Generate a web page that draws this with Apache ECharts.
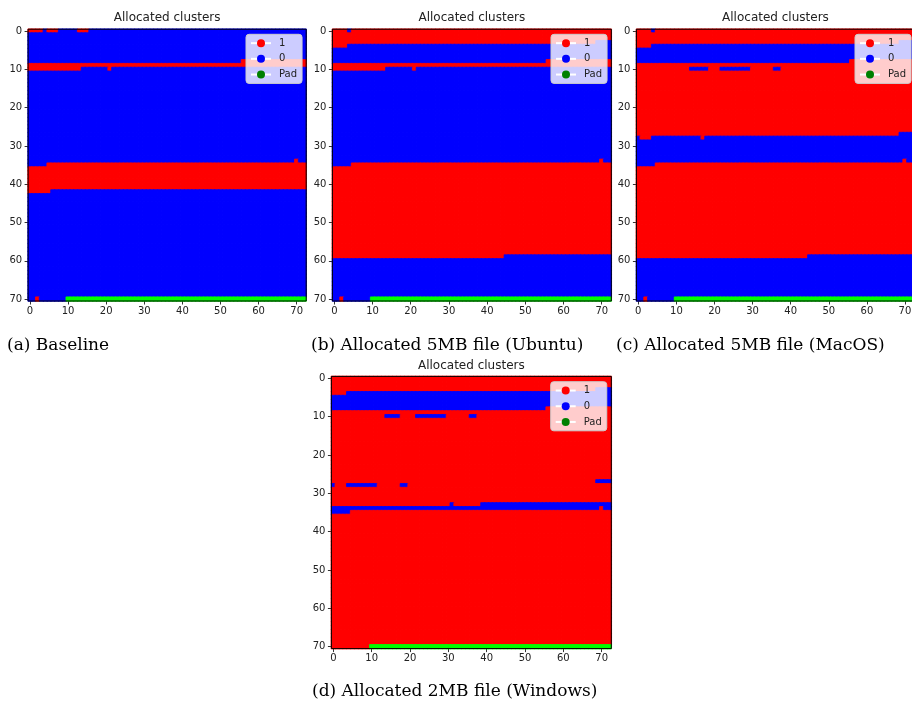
<!DOCTYPE html>
<html>
<head>
<meta charset="utf-8">
<script src="https://cdn.jsdelivr.net/npm/echarts@6/dist/echarts.min.js"></script>
<style>
html,body{margin:0;padding:0;background:#ffffff;}
#chart{width:912px;height:702px;}
</style>
</head>
<body>
<div id="chart"></div>
<script>
// ---------------- data ----------------
const NCOLS = 73;            // clusters per image row (x: 0..72)
const NROWS = 71;            // image rows (y: 0..70)
const xTickLabels = [0, 10, 20, 30, 40, 50, 60, 70];
const yTickLabels = [0, 10, 20, 30, 40, 50, 60, 70];
const legendNames = ['1', '0', 'Pad'];
const panelTitle = 'Allocated clusters';
const captions = [
  '(a) Baseline',
  '(b) Allocated 5MB file (Ubuntu)',
  '(c) Allocated 5MB file (MacOS)',
  '(d) Allocated 2MB file (Windows)'
];
// first padding cell [row, col]
const padStart = [70, 10];
// runs of allocated clusters (value 1), [startRow, startCol, endRow, endCol], row-major
const allocBaseline = [
  [0, 0, 0, 3], [0, 5, 0, 7], [0, 13, 0, 15],
  [8, 56, 10, 13], [10, 21, 10, 21],
  [34, 70, 34, 70],
  [35, 5, 42, 5],
  [70, 2, 70, 2]
];
const allocUbuntu = [
  [0, 0, 0, 3], [0, 5, 3, 68], [4, 0, 4, 3],
  [8, 56, 10, 13], [10, 21, 10, 21],
  [34, 70, 34, 70],
  [35, 5, 59, 44],
  [70, 2, 70, 2]
];
const allocMacOS = [
  [0, 0, 0, 3], [0, 5, 3, 68], [4, 0, 4, 3],
  [8, 56, 10, 13], [10, 19, 10, 21], [10, 30, 10, 35], [10, 38, 27, 68],
  [28, 1, 28, 3], [28, 17, 28, 17],
  [34, 70, 34, 70],
  [35, 5, 59, 44],
  [70, 2, 70, 2]
];
const allocWindows = [
  [0, 0, 3, 68], [4, 0, 4, 3],
  [8, 56, 10, 13], [10, 18, 10, 21], [10, 30, 10, 35], [10, 38, 27, 68],
  [28, 1, 28, 3], [28, 12, 28, 17], [28, 20, 33, 30], [33, 32, 33, 38],
  [34, 70, 34, 70],
  [35, 5, 70, 9]
];
const panelSpans = [allocBaseline, allocUbuntu, allocMacOS, allocWindows];
const cellColors = {0: '#0000ff', 1: '#ff0000', 2: '#00ff00'};
const legendColors = ['#ff0000', '#0000ff', '#008000'];

// ---------------- build cells ----------------
function buildCells(spans) {
  const cells = new Array(NROWS * NCOLS).fill(0);
  const padIdx = padStart[0] * NCOLS + padStart[1];
  for (let i = padIdx; i < cells.length; i++) cells[i] = 2;
  spans.forEach(function (s) {
    const a = s[0] * NCOLS + s[1], b = s[2] * NCOLS + s[3];
    for (let i = a; i <= b; i++) cells[i] = 1;
  });
  return cells.map(function (v, i) {
    const c = cellColors[v];
    return {
      value: [i % NCOLS, Math.floor(i / NCOLS), v],
      itemStyle: {color: c, borderColor: c, borderWidth: 0.8}
    };
  });
}

const xCats = Array.from({length: NCOLS}, function (_, i) { return String(i); });
const yCats = Array.from({length: NROWS}, function (_, i) { return String(i); });

// ---------------- layout ----------------
const gridPos = [
  {left: 28.1, top: 29.2, width: 278.1, height: 271.8},
  {left: 332.4, top: 29.2, width: 278.9, height: 271.8},
  {left: 636.4, top: 29.2, width: 278.1, height: 271.8},
  {left: 331.4, top: 376.4, width: 279.9, height: 272.2}
];
const legendPos = [
  {left: 246, top: 34.3},
  {left: 551, top: 34.3},
  {left: 855, top: 34.3},
  {left: 550.7, top: 381.7}
];
const captionPos = [
  {left: 7, top: 336},
  {left: 311, top: 336},
  {left: 616, top: 336},
  {left: 312, top: 682}
];

const isTick = function (index) { return xTickLabels.indexOf(index) >= 0; };
const isYTick = function (index) { return yTickLabels.indexOf(index) >= 0; };

const grids = [], xAxes = [], yAxes = [], series = [], legends = [], titles = [];
gridPos.forEach(function (g, k) {
  grids.push({
    left: g.left, top: g.top, width: g.width, height: g.height,
    show: true, borderColor: '#000000', borderWidth: 1,
    backgroundColor: 'transparent', z: 10,
    containLabel: false, outerBoundsMode: 'none'
  });
  xAxes.push({
    type: 'category', gridIndex: k, data: xCats, position: 'bottom',
    axisLine: {show: false},
    axisTick: {show: true, alignWithLabel: true, interval: isTick, length: 3.5,
      lineStyle: {color: '#000000', width: 0.8}},
    axisLabel: {show: true, interval: isTick, margin: 5, fontSize: 10,
      fontFamily: 'DejaVu Sans', color: '#222222'},
    splitLine: {show: false}, splitArea: {show: false}
  });
  yAxes.push({
    type: 'category', gridIndex: k, data: yCats, inverse: true, position: 'left',
    axisLine: {show: false},
    axisTick: {show: true, alignWithLabel: true, interval: isYTick, length: 3.5,
      lineStyle: {color: '#000000', width: 0.8}},
    axisLabel: {show: true, interval: isYTick, margin: 6, fontSize: 10,
      fontFamily: 'DejaVu Sans', color: '#222222'},
    splitLine: {show: false}, splitArea: {show: false}
  });
  series.push({
    type: 'heatmap', name: 'panel' + k, xAxisIndex: k, yAxisIndex: k,
    data: buildCells(panelSpans[k]),
    progressive: 0, animation: false,
    emphasis: {disabled: true}
  });
  legends.push({
    data: legendNames, orient: 'vertical',
    left: legendPos[k].left, top: legendPos[k].top,
    itemWidth: 20, itemHeight: 10, itemGap: 4,
    padding: [3, 5, 3, 4],
    backgroundColor: 'rgba(255,255,255,0.8)',
    borderColor: '#cccccc', borderWidth: 1, borderRadius: 3,
    selectedMode: false, z: 20,
    textStyle: {fontSize: 10, fontFamily: 'DejaVu Sans', color: '#222222',
      lineHeight: 11.7, padding: [0, 0, 0, 3]}
  });
  titles.push({
    text: panelTitle, left: g.left + g.width / 2, top: g.top - 17,
    textAlign: 'center', padding: 0,
    textStyle: {fontSize: 12, fontWeight: 'normal', fontFamily: 'DejaVu Sans', color: '#222222'}
  });
  titles.push({
    text: captions[k], left: captionPos[k].left, top: captionPos[k].top, padding: 0,
    textStyle: {fontSize: 17, fontWeight: 'normal', fontFamily: 'DejaVu Serif',
      color: '#000000', lineHeight: 20}
  });
});

// legend-only series
legendNames.forEach(function (n, i) {
  series.push({
    type: 'line', name: n, xAxisIndex: 0, yAxisIndex: 0, data: [],
    symbol: 'circle', symbolSize: 8,
    itemStyle: {color: legendColors[i]},
    lineStyle: {color: '#ffffff', width: 1.5}
  });
});

const chart = echarts.init(document.getElementById('chart'), null, {renderer: 'canvas'});
chart.setOption({
  animation: false,
  backgroundColor: '#ffffff',
  title: titles,
  grid: grids,
  xAxis: xAxes,
  yAxis: yAxes,
  legend: legends,
  series: series
});
</script>
</body>
</html>
